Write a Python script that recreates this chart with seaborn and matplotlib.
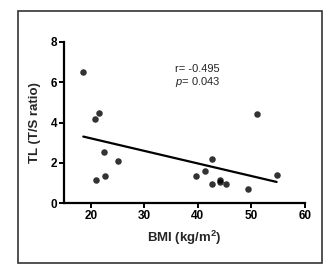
import numpy as np
import pandas as pd
import matplotlib
matplotlib.use('Agg')
import matplotlib.pyplot as plt
import seaborn as sns
from matplotlib.patches import Rectangle

# values
bmi = [18.6, 20.7, 21.5, 22.4, 20.9, 22.7, 25.0, 39.7, 41.3, 42.6, 42.6,
       44.1, 44.2, 45.2, 49.3, 51.1, 54.7]
tl_ratio = [6.5, 4.16, 4.46, 2.54, 1.14, 1.36, 2.1, 1.36, 1.59, 2.19, 0.93,
            1.16, 1.06, 0.93, 0.70, 4.41, 1.39]
x_ticks = [20, 30, 40, 50, 60]
y_ticks = [0, 2, 4, 6, 8]

df = pd.DataFrame({'bmi': bmi, 'tl': tl_ratio})

sns.set_style('ticks')
plt.rcParams['font.family'] = ['Liberation Sans', 'DejaVu Sans']
plt.rcParams['mathtext.fontset'] = 'custom'
plt.rcParams['mathtext.rm'] = 'Liberation Sans'
plt.rcParams['mathtext.it'] = 'Liberation Sans:italic'
plt.rcParams['mathtext.bf'] = 'Liberation Sans:bold'

fig = plt.figure(figsize=(3.31, 2.72), dpi=100)
fig.patches.append(Rectangle((18 / 331, 1 - 263 / 272), 304 / 331, 252 / 272,
                             transform=fig.transFigure, fill=False,
                             edgecolor='#333333', linewidth=1.2))
ax = fig.add_axes([64 / 331, 1 - 203 / 272, 241 / 331, 161 / 272])

sns.regplot(data=df, x='bmi', y='tl', ci=None, ax=ax, color='black',
            scatter_kws={'s': 22, 'linewidths': 0},
            line_kws={'linewidth': 1.6})

ax.set_xlim(15, 60)
ax.set_ylim(0, 8)
ax.set_xticks(x_ticks)
ax.set_yticks(y_ticks)
sns.despine(ax=ax)
for sp in ['left', 'bottom']:
    ax.spines[sp].set_linewidth(1.6)
    ax.spines[sp].set_color('black')
ax.tick_params(width=1.4, length=3.5, labelsize=8.5, colors='black', pad=1.5)
for lbl in ax.get_xticklabels() + ax.get_yticklabels():
    lbl.set_fontweight('bold')

ax.set_xlabel('BMI (kg/m$^\\mathbf{2}$)', fontsize=9.5, fontweight='bold', labelpad=5)
ax.set_ylabel('TL (T/S ratio)', fontsize=9.5, fontweight='bold', labelpad=7)

ax.text(0.555, 0.83, 'r= -0.495', transform=ax.transAxes, ha='center',
        va='center', fontsize=8)
ax.text(0.555, 0.75, '$\\mathit{p}$= 0.043', transform=ax.transAxes, ha='center',
        va='center', fontsize=8)

fig.savefig('out.png', dpi=100)
